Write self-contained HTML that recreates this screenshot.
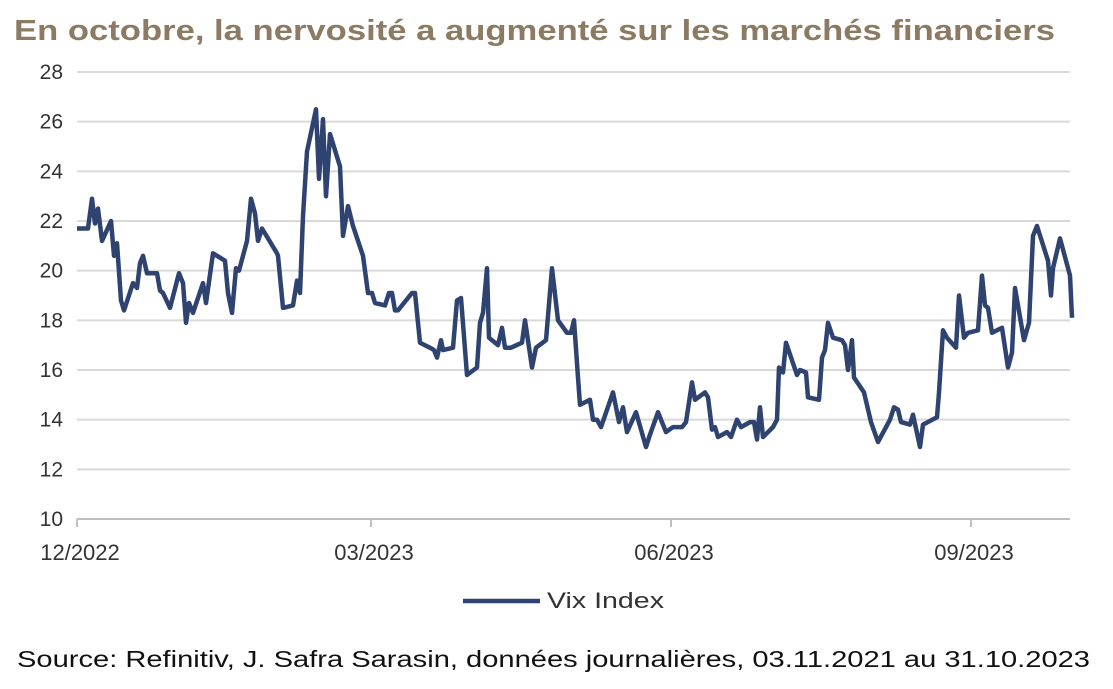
<!DOCTYPE html>
<html><head><meta charset="utf-8"><style>
html,body{margin:0;padding:0;background:#fff;}
svg{display:block;font-family:"Liberation Sans",sans-serif;}
</style></head><body>
<svg id="chart" width="1113" height="689" viewBox="0 0 1113 689">
<text x="14" y="40" font-size="29" font-weight="bold" fill="#8c7a62" textLength="1041" lengthAdjust="spacingAndGlyphs">En octobre, la nervosité a augmenté sur les marchés financiers</text>
<g id="grid"></g>
<g id="yticks"></g>
<g id="xticks"></g>
<g id="series"></g>
<g>
<line x1="463" y1="601" x2="540" y2="601" stroke="#2f4371" stroke-width="4.5"/>
<text x="547" y="608" font-size="22" fill="#333" textLength="117" lengthAdjust="spacingAndGlyphs">Vix Index</text>
</g>
<text x="17" y="667" font-size="23" fill="#111" textLength="1073" lengthAdjust="spacingAndGlyphs">Source: Refinitiv, J. Safra Sarasin, données journalières, 03.11.2021 au 31.10.2023</text>
</svg>
<script>
const yTicks=[10,12,14,16,18,20,22,24,26,28];
const xTickLabels=["12/2022","03/2023","06/2023","09/2023"];
const xTickPos=[0,2.94,5.94,8.94];
const times=[0,0.11,0.15,0.18,0.21,0.25,0.34,0.37,0.40,0.44,0.47,0.56,0.60,0.63,0.66,0.70,0.80,0.83,0.86,0.93,1.02,1.06,1.09,1.12,1.16,1.26,1.29,1.36,1.40,1.48,1.51,1.55,1.59,1.62,1.70,1.74,1.78,1.81,1.85,2.00,2.01,2.06,2.16,2.20,2.23,2.26,2.30,2.39,2.42,2.46,2.49,2.53,2.63,2.66,2.71,2.76,2.86,2.91,2.95,2.98,3.08,3.12,3.15,3.18,3.21,3.35,3.38,3.43,3.53,3.57,3.60,3.64,3.66,3.76,3.80,3.84,3.90,4.00,4.03,4.06,4.10,4.12,4.21,4.25,4.28,4.34,4.45,4.48,4.55,4.59,4.69,4.75,4.81,4.90,4.94,4.97,5.01,5.03,5.13,5.16,5.20,5.24,5.36,5.42,5.46,5.50,5.59,5.69,5.73,5.81,5.89,5.96,6.05,6.09,6.15,6.18,6.28,6.31,6.35,6.38,6.41,6.50,6.54,6.60,6.64,6.73,6.77,6.80,6.83,6.86,6.96,7.00,7.02,7.06,7.09,7.20,7.23,7.29,7.31,7.42,7.45,7.48,7.51,7.56,7.65,7.68,7.71,7.75,7.77,7.87,7.94,8.01,8.13,8.17,8.21,8.24,8.33,8.36,8.43,8.46,8.60,8.62,8.66,8.70,8.79,8.82,8.87,8.91,9.01,9.05,9.08,9.11,9.15,9.25,9.31,9.35,9.38,9.47,9.52,9.56,9.60,9.71,9.74,9.76,9.83,9.93,9.95];
const vix=[21.7,21.7,22.9,21.9,22.5,21.2,22.0,20.6,21.1,18.8,18.4,19.5,19.3,20.3,20.6,19.9,19.9,19.2,19.1,18.5,19.9,19.5,17.9,18.7,18.3,19.5,18.7,20.7,20.6,20.4,19.1,18.3,20.1,20.0,21.2,22.9,22.3,21.2,21.7,20.7,20.6,18.5,18.6,19.6,19.1,22.2,24.8,26.5,23.7,26.1,23.0,25.5,24.2,21.4,22.6,21.8,20.6,19.1,19.1,18.7,18.6,19.1,19.1,18.4,18.4,19.1,19.1,17.1,16.9,16.8,16.5,17.2,16.8,16.9,18.8,18.9,15.8,16.1,17.9,18.3,20.1,17.3,17.0,17.7,16.9,16.9,17.1,18.0,16.1,16.9,17.2,20.1,18.0,17.5,17.5,18.0,15.7,14.6,14.8,14.0,14.0,13.7,15.1,13.9,14.5,13.5,14.3,12.9,13.4,14.3,13.5,13.7,13.7,13.9,15.5,14.8,15.1,14.9,13.6,13.7,13.3,13.5,13.3,14.0,13.7,13.9,13.9,13.2,14.5,13.3,13.7,14.0,16.1,15.9,17.1,15.8,16.0,15.9,14.9,14.8,16.5,16.8,17.9,17.3,17.2,17.0,16.0,17.2,15.7,15.1,13.9,13.1,14.0,14.5,14.4,13.9,13.8,14.2,12.9,13.8,14.1,15.1,17.6,17.3,16.9,19.0,17.3,17.5,17.6,19.8,18.6,18.5,17.5,17.7,16.1,16.7,19.3,17.2,17.9,21.4,21.8,20.4,19.0,20.1,21.3,19.8,18.1];
const NS="http://www.w3.org/2000/svg";
const X0=77,X1=1072,T1=9.95,Y0=519,Y1=72;
function xs(t){return X0+(X1-X0)*t/T1;}
function ys(v){return Y0-(Y0-Y1)*(v-10)/18;}
function mk(tag,attrs,parent){const e=document.createElementNS(NS,tag);for(const k in attrs)e.setAttribute(k,attrs[k]);parent.appendChild(e);return e;}
const grid=document.getElementById('grid'),yt=document.getElementById('yticks'),xt=document.getElementById('xticks'),se=document.getElementById('series');
yTicks.forEach(v=>{
  if(v>10){const l=mk('line',{x1:X0,x2:1070,y1:ys(v),y2:ys(v),stroke:'#d9d9d9','stroke-width':2},grid);
  
  }
  const t=mk('text',{x:63,y:ys(v)+7,'text-anchor':'end','font-size':21,fill:'#333'},yt);
  
  
  t.textContent=v;
});
const ax=mk('line',{x1:X0,x2:1070,y1:Y0,y2:Y0,stroke:'#bfbfbf','stroke-width':2},xt);


xTickLabels.forEach((lab,i)=>{
  const x=xs(xTickPos[i]);
  const m=mk('line',{x1:x,x2:x,y1:Y0,y2:Y0+8,stroke:'#bfbfbf','stroke-width':2},xt);
  
  
  const t=mk('text',{x:x+3,y:560,'text-anchor':'middle','font-size':22,fill:'#333'},xt);
  
  
  t.textContent=lab;
});
const pts=times.map((t,i)=>xs(t).toFixed(1)+','+ys(vix[i]).toFixed(1)).join(' ');
const pl=mk('polyline',{points:pts,fill:'none',stroke:'#2f4371','stroke-width':4.5,'stroke-linejoin':'round'},se);


</script>
</body></html>
